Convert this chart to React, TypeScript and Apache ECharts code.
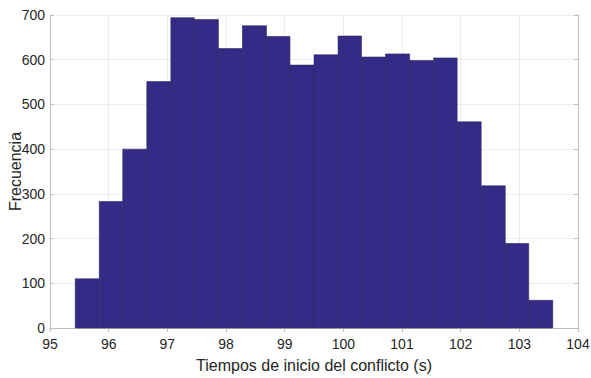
import React, { useEffect, useRef } from "react";
import * as echarts from "echarts";

const binEdges = [95.43, 95.84, 96.24, 96.65, 97.06, 97.46, 97.87, 98.28, 98.69, 99.09, 99.5, 99.91, 100.31, 100.72, 101.13, 101.54, 101.94, 102.35, 102.76, 103.16, 103.57];
const counts = [110, 283, 400, 551, 694, 690, 625, 676, 652, 588, 611, 653, 606, 613, 598, 604, 461, 318, 189, 62];
const xTicks = [95, 96, 97, 98, 99, 100, 101, 102, 103, 104];
const yTicks = [0, 100, 200, 300, 400, 500, 600, 700];

const FONT = "'Liberation Sans', Arial, sans-serif";

export default function App() {
  const ref = useRef<HTMLDivElement>(null);
  useEffect(() => {
    const chart = echarts.init(ref.current!, null, { renderer: "svg" });
    const data = counts.map((c, i) => [binEdges[i], binEdges[i + 1], c]);
    const axisLine = { show: true, lineStyle: { color: "#bdbdbd", width: 1 } };
    const splitLine = { show: true, lineStyle: { color: "#ececec", width: 1 } };
    chart.setOption({
      animation: false,
      grid: { left: 50, right: 13, top: 15, bottom: 50, containLabel: false, outerBoundsMode: "none" },
      xAxis: [
        {
          type: "value",
          min: xTicks[0],
          max: xTicks[xTicks.length - 1],
          interval: 1,
          axisLine,
          axisTick: { show: true, inside: true, length: 4, lineStyle: { color: "#bdbdbd" } },
          splitLine,
          axisLabel: { color: "#262626", fontSize: 14, fontFamily: FONT, margin: 9 },
          name: "Tiempos de inicio del conflicto (s)",
          nameLocation: "middle",
          nameMoveOverlap: false,
          nameGap: 29,
          nameTextStyle: { color: "#262626", fontSize: 16, fontFamily: FONT },
        },
        {
          type: "value",
          position: "top",
          min: xTicks[0],
          max: xTicks[xTicks.length - 1],
          interval: 1,
          axisLine,
          axisTick: { show: true, inside: true, length: 4, lineStyle: { color: "#bdbdbd" } },
          splitLine: { show: false },
          axisLabel: { show: false },
        },
      ],
      yAxis: [
        {
          type: "value",
          min: yTicks[0],
          max: yTicks[yTicks.length - 1],
          interval: 100,
          axisLine,
          axisTick: { show: true, inside: true, length: 4, lineStyle: { color: "#bdbdbd" } },
          splitLine,
          axisLabel: { color: "#262626", fontSize: 14, fontFamily: FONT, margin: 5 },
          name: "Frecuencia",
          nameLocation: "middle",
          nameMoveOverlap: false,
          nameGap: 27,
          nameTextStyle: { color: "#262626", fontSize: 16, fontFamily: FONT },
        },
        {
          type: "value",
          position: "right",
          min: yTicks[0],
          max: yTicks[yTicks.length - 1],
          interval: 100,
          axisLine,
          axisTick: { show: true, inside: true, length: 4, lineStyle: { color: "#bdbdbd" } },
          splitLine: { show: false },
          axisLabel: { show: false },
        },
      ],
      series: [
        {
          type: "custom",
          xAxisIndex: 0,
          yAxisIndex: 0,
          data,
          encode: { x: [0, 1], y: 2 },
          renderItem: (params: any, api: any) => {
            const p0 = api.coord([api.value(0), api.value(2)]);
            const p1 = api.coord([api.value(1), 0]);
            return {
              type: "rect",
              shape: { x: p0[0], y: p0[1], width: p1[0] - p0[0], height: p1[1] - p0[1] },
              style: { fill: "#352a86", stroke: "#2e2a5c", lineWidth: 0.6 },
            };
          },
        },
      ],
    });
    return () => chart.dispose();
  }, []);
  return <div ref={ref} style={{ width: 591, height: 378, position: "absolute", left: 0, top: 0, background: "#fff" }} />;
}
